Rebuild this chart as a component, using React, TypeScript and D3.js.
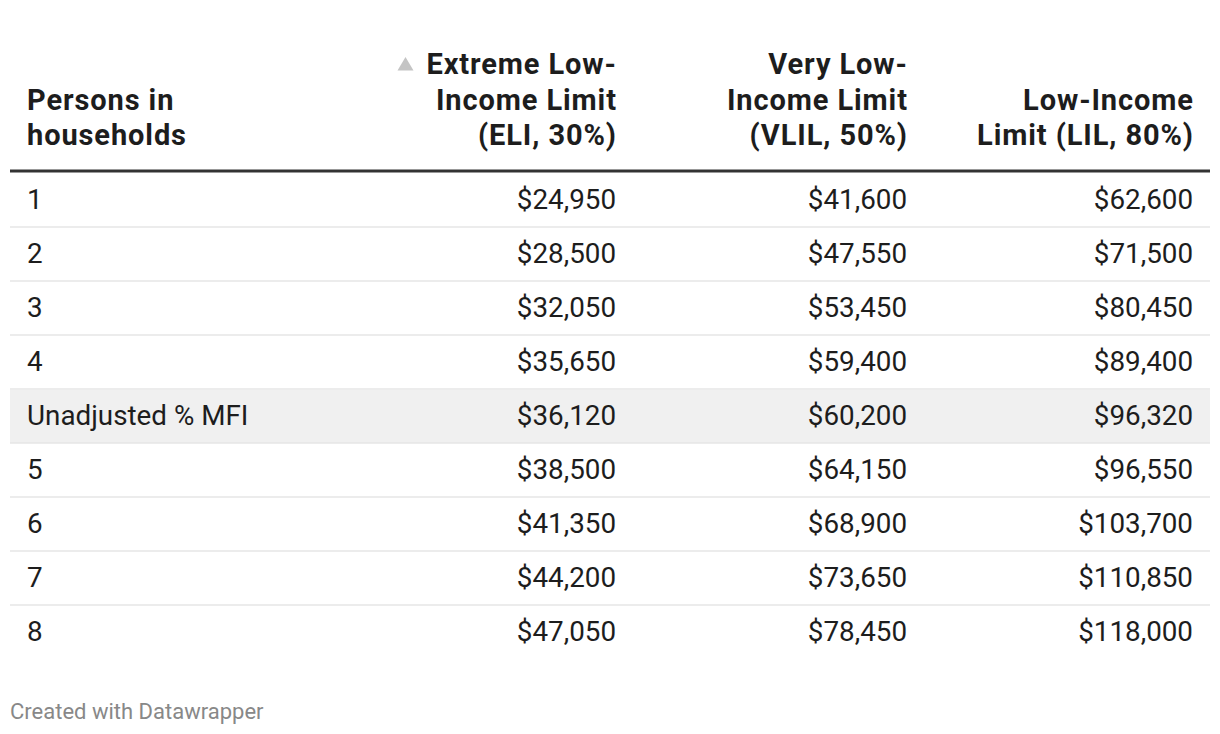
import React from "react";
import * as d3 from "d3";

const rowLabels = ["1", "2", "3", "4", "Unadjusted % MFI", "5", "6", "7", "8"];
const eliValues = [24950, 28500, 32050, 35650, 36120, 38500, 41350, 44200, 47050];
const vlilValues = [41600, 47550, 53450, 59400, 60200, 64150, 68900, 73650, 78450];
const lilValues = [62600, 71500, 80450, 89400, 96320, 96550, 103700, 110850, 118000];
const headers = [
  ["Persons in", "households"],
  ["Extreme Low-", "Income Limit", "(ELI, 30%)"],
  ["Very Low-", "Income Limit", "(VLIL, 50%)"],
  ["Low-Income", "Limit (LIL, 80%)"],
];
const highlightRow = "Unadjusted % MFI";

const W = 1220;
const H = 734;
const FONT = "Roboto, 'Noto Sans', sans-serif";

export default function App() {
  const fmt = d3.format("$,");
  const columns = [eliValues, vlilValues, lilValues];
  const tableLeft = 10;
  const tableRight = 1210;
  const headerBottom = 173;
  const rowH = 54;
  const y = d3
    .scaleBand<string>()
    .domain(rowLabels)
    .range([headerBottom, headerBottom + rowH * rowLabels.length])
    .padding(0);
  const colRight = d3.scaleOrdinal<number, number>().domain([0, 1, 2, 3]).range([27, 616, 907, 1193]);
  const lineH = 35.5;
  const headerBase = 145;
  const hls = 0.9;

  return (
    <div style={{ position: "absolute", left: 0, top: 0 }}>
      <svg width={W} height={H} style={{ display: "block", background: "#fff" }}>
        {/* header */}
        {headers.map((lines, ci) =>
          lines.map((t, li) => {
            const n = lines.length;
            const yy = headerBase - (n - 1 - li) * lineH;
            return (
              <text
                key={ci + "-" + li}
                x={ci === 0 ? colRight(ci) : colRight(ci) + hls}
                y={yy}
                textAnchor={ci === 0 ? "start" : "end"}
                fontFamily={FONT}
                fontWeight={700}
                fontSize={29}
                letterSpacing={hls}
                fill="#1d1d1d"
              >
                {t}
              </text>
            );
          })
        )}
        {/* sort arrow */}
        <path d="M397.5,70.5 L405.5,57 L413.5,70.5 Z" fill="#c4c4c4" />
        <line x1={tableLeft} x2={tableRight} y1={171} y2={171} stroke="#333" strokeWidth={3} />
        {/* rows */}
        {rowLabels.map((r, i) => {
          const y0 = y(r) as number;
          const hl = r === highlightRow;
          return (
            <g key={r}>
              {hl && <rect x={tableLeft} y={y0 + 1} width={tableRight - tableLeft} height={rowH - 1} fill="#f0f0f0" />}
              {i < rowLabels.length - 1 && (
                <line x1={tableLeft} x2={tableRight} y1={y0 + rowH} y2={y0 + rowH} stroke="#e6e6e6" strokeWidth={1.5} />
              )}
              <text x={colRight(0)} y={y0 + 36} fontFamily={FONT} fontSize={27.8} fill="#1d1d1d">
                {r}
              </text>
              {columns.map((vals, ci) => (
                <text
                  key={ci}
                  x={colRight(ci + 1)}
                  y={y0 + 36}
                  textAnchor="end"
                  fontFamily={FONT}
                  fontSize={27.8}
                  fill="#1d1d1d"
                >
                  {fmt(vals[i])}
                </text>
              ))}
            </g>
          );
        })}
        <text x={10} y={719} fontFamily={FONT} fontSize={22} fill="#888">
          Created with Datawrapper
        </text>
      </svg>
    </div>
  );
}
